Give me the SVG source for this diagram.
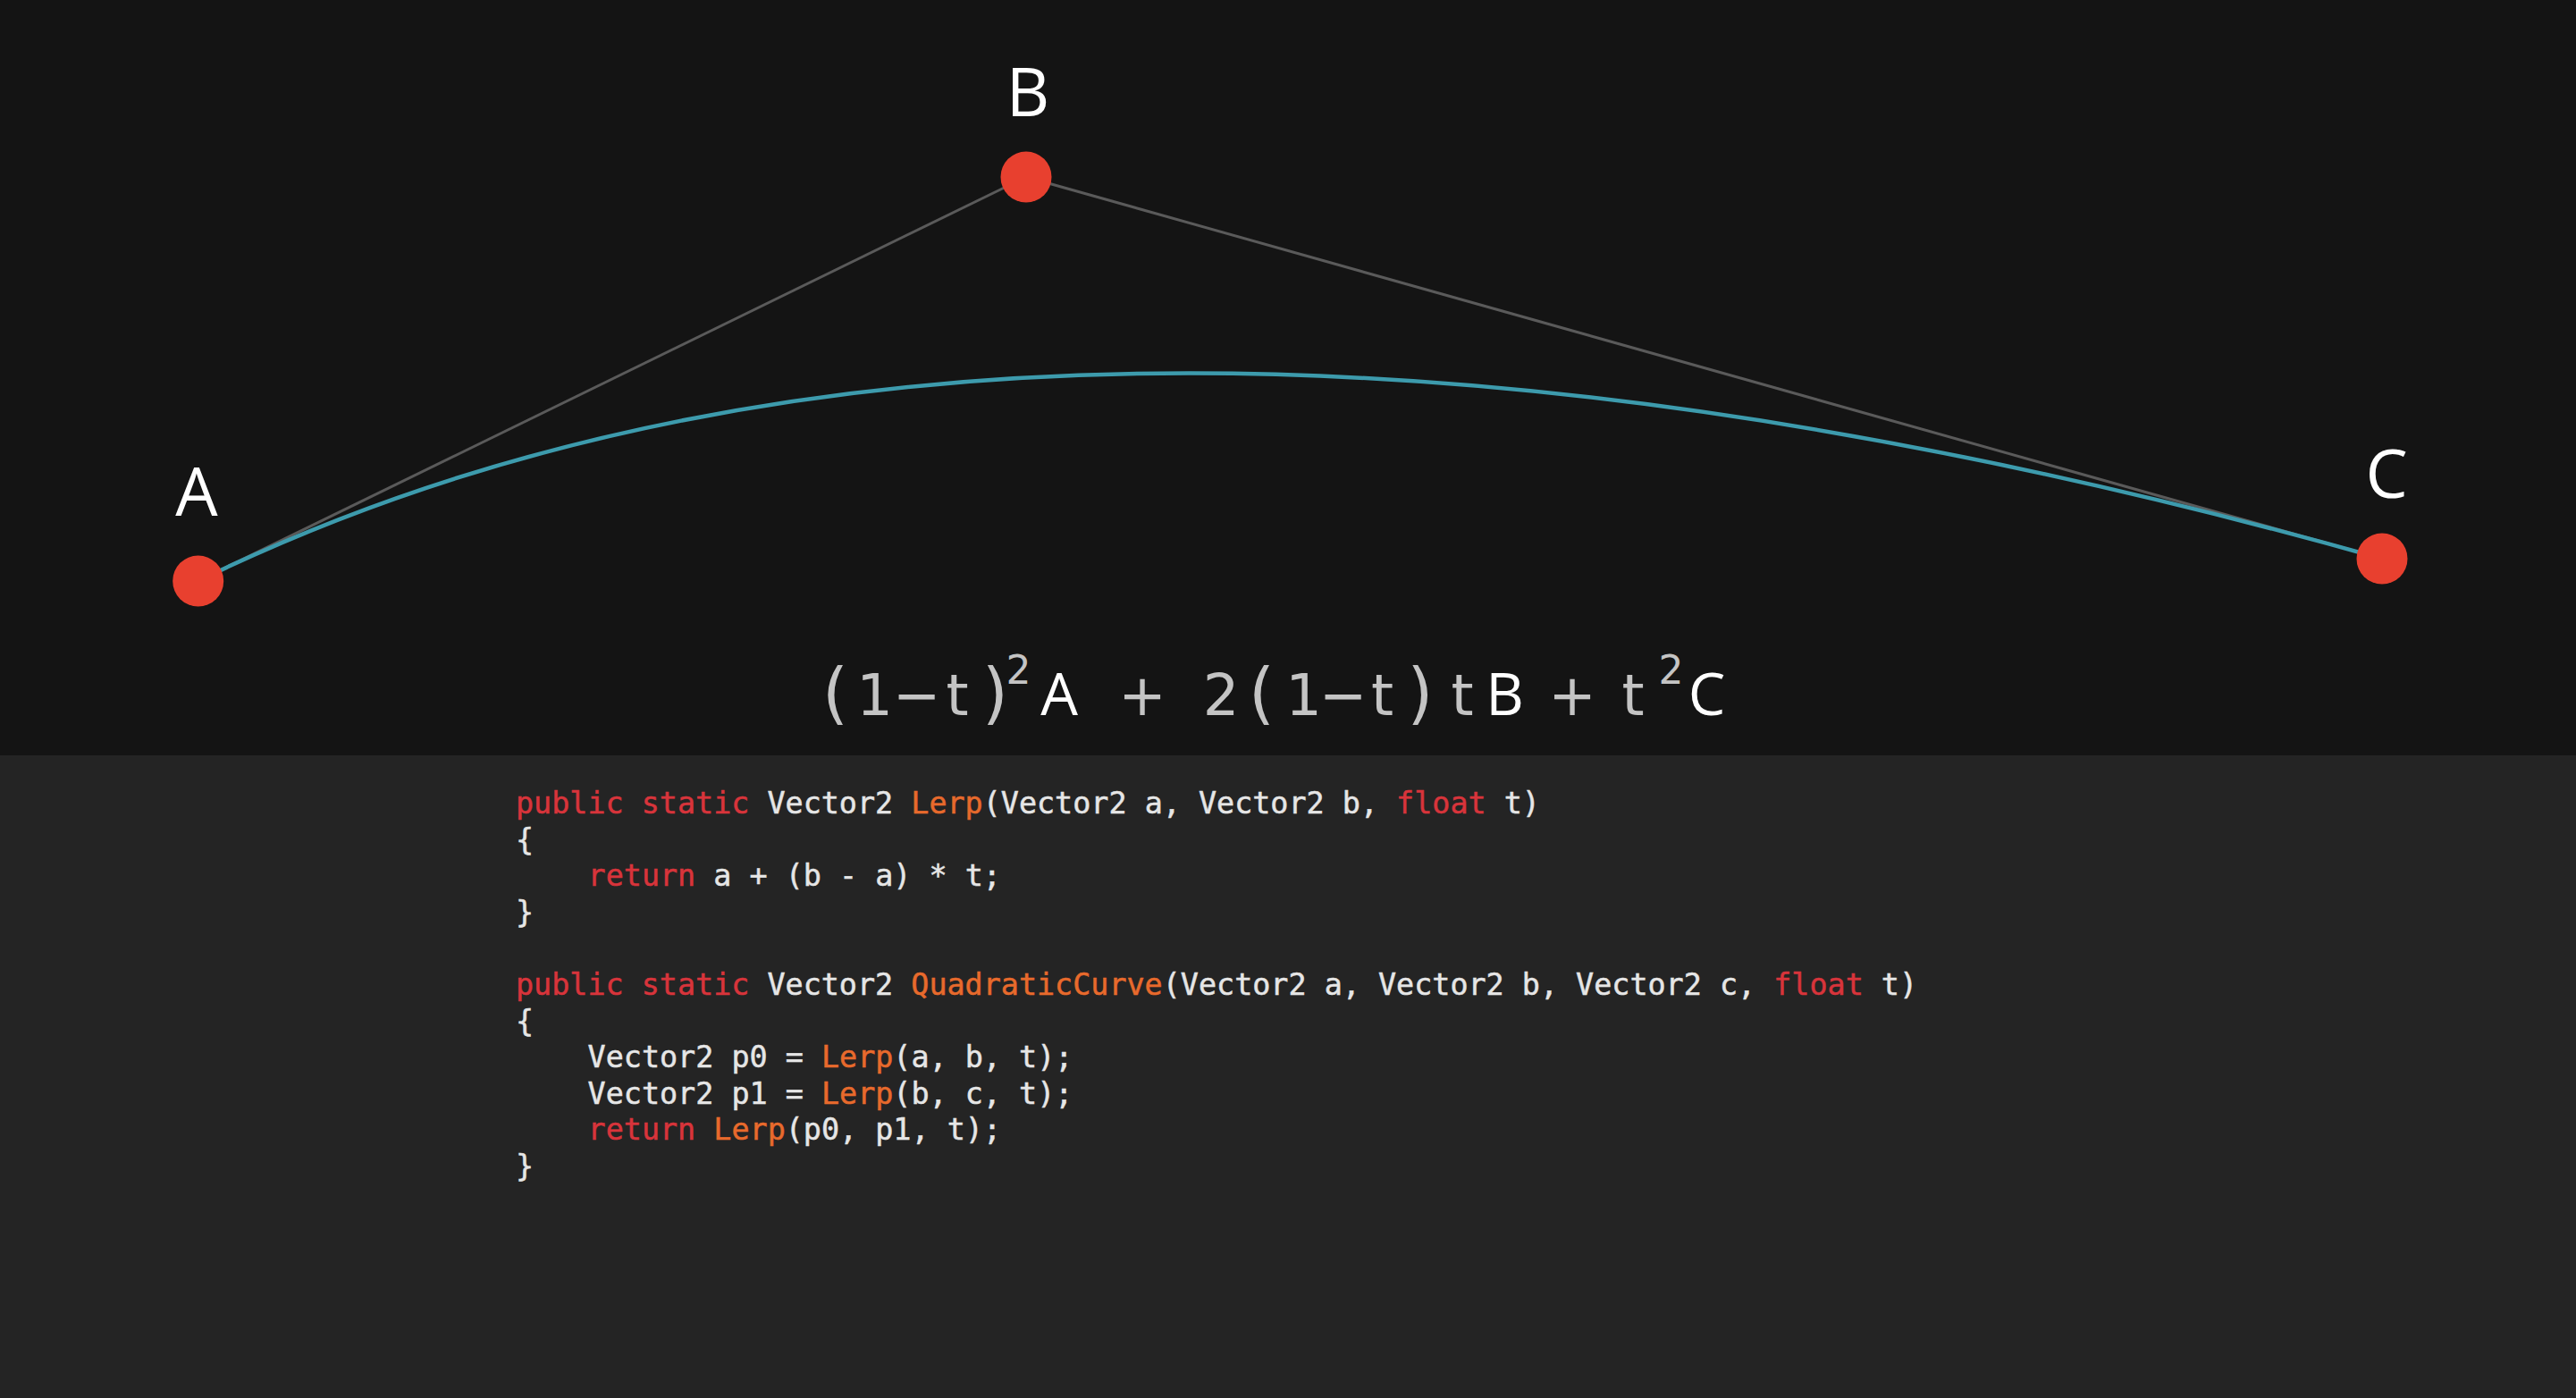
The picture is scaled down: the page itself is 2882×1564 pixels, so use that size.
<svg xmlns="http://www.w3.org/2000/svg" width="2882" height="1564" viewBox="0 0 2882 1564">
  <style>
    .lbl { font-family: "Open Sans", "Noto Sans", sans-serif; font-size: 75px; fill: #ffffff; text-anchor: middle; }
    .eq { text-anchor: middle; }
    .eqg { font-family: "DejaVu Sans", sans-serif; font-size: 64px; fill: #c4c4c4; }
    .eqp { font-family: "DejaVu Sans", sans-serif; font-size: 74px; fill: #c4c4c4; }
    .eqw { font-family: "Open Sans", "Noto Sans", sans-serif; font-size: 66px; fill: #ffffff; }
    .eqs { font-family: "DejaVu Sans", sans-serif; font-size: 44px; fill: #c4c4c4; }
    .code { font-family: "DejaVu Sans Mono", "Liberation Mono", monospace; font-size: 33.4px; fill: #e6e6e6; stroke: #e6e6e6; stroke-width: 0.5; }
    .kw { fill: #d8343b; stroke: #d8343b; }
    .fn { fill: #e86a2c; stroke: #e86a2c; }
    .dot { fill: #e8402f; }
    .ctrl { stroke: #5a5a5a; stroke-width: 3; fill: none; }
    .curve { stroke: #3d9bad; stroke-width: 4.5; fill: none; }
  </style>
  <rect x="0" y="0" width="2882" height="845" fill="#141414"/>
  <rect x="0" y="845" width="2882" height="719" fill="#242424"/>

  <g id="connectors">
    <line class="ctrl" x1="221.7" y1="650" x2="1148" y2="198"/>
    <line class="ctrl" x1="1148" y1="198" x2="2665" y2="625"/>
    <path class="curve" d="M221.7 650 Q1148 198 2665 625"/>
  </g>

  <g id="node-A">
    <circle class="dot" cx="221.7" cy="650" r="28.5"/>
    <text class="lbl" x="220" y="577">A</text>
  </g>
  <g id="node-B">
    <circle class="dot" cx="1148" cy="198" r="28.5"/>
    <text class="lbl" x="1150" y="130">B</text>
  </g>
  <g id="node-C">
    <circle class="dot" cx="2665" cy="625" r="28.5"/>
    <text class="lbl" x="2670" y="557">C</text>
  </g>

  <g id="equation">
    <text class="eq" y="800"><tspan class="eqp" x="934.5" y="801">(</tspan><tspan class="eqg" x="978.5 1025.5 1071" y="800">1−t</tspan><tspan class="eqp" x="1113.5" y="801">)</tspan><tspan class="eqs" x="1139.5" y="765">2</tspan><tspan class="eqw" x="1185" y="800">A</tspan><tspan class="eqg" x="1278" y="800">+</tspan><tspan class="eqg" x="1366" y="800">2</tspan><tspan class="eqp" x="1411.5" y="801">(</tspan><tspan class="eqg" x="1458.5 1502.5 1546.5" y="800">1−t</tspan><tspan class="eqp" x="1589" y="801">)</tspan><tspan class="eqg" x="1636" y="800">t</tspan><tspan class="eqw" x="1683.5" y="800">B</tspan><tspan class="eqg" x="1759" y="800">+</tspan><tspan class="eqg" x="1827" y="800">t</tspan><tspan class="eqs" x="1869.5" y="765">2</tspan><tspan class="eqw" x="1909.5" y="800">C</tspan></text>
  </g>

  <g id="code" class="code">
    <text x="577" y="910"><tspan class="kw">public static</tspan> Vector2 <tspan class="fn">Lerp</tspan>(Vector2 a, Vector2 b, <tspan class="kw">float</tspan> t)</text>
    <text x="577" y="950.6">{</text>
    <text x="657.6" y="991.2"><tspan class="kw">return</tspan> a + (b - a) * t;</text>
    <text x="577" y="1031.8">}</text>
    <text x="577" y="1113"><tspan class="kw">public static</tspan> Vector2 <tspan class="fn">QuadraticCurve</tspan>(Vector2 a, Vector2 b, Vector2 c, <tspan class="kw">float</tspan> t)</text>
    <text x="577" y="1153.6">{</text>
    <text x="657.6" y="1194.2">Vector2 p0 = <tspan class="fn">Lerp</tspan>(a, b, t);</text>
    <text x="657.6" y="1234.8">Vector2 p1 = <tspan class="fn">Lerp</tspan>(b, c, t);</text>
    <text x="657.6" y="1275.4"><tspan class="kw">return</tspan> <tspan class="fn">Lerp</tspan>(p0, p1, t);</text>
    <text x="577" y="1316">}</text>
  </g>
</svg>
